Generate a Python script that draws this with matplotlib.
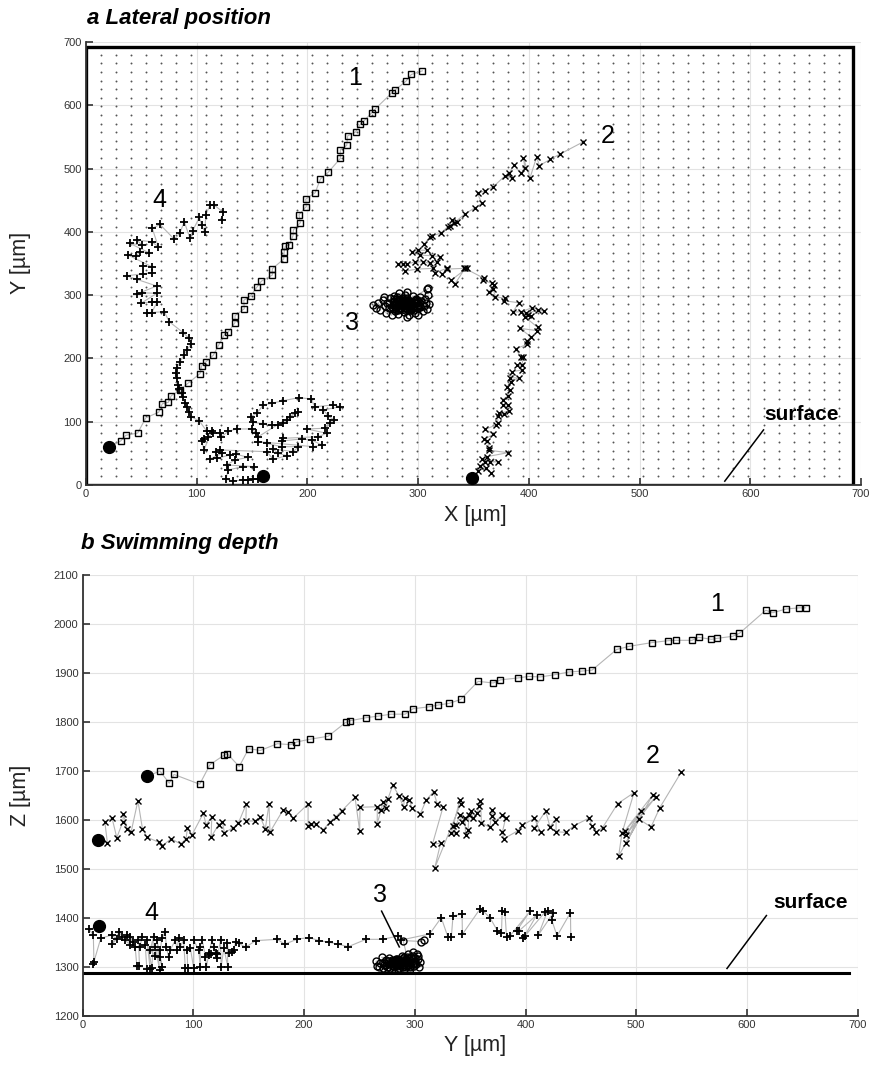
import matplotlib
matplotlib.use("Agg")
import matplotlib.pyplot as plt
from matplotlib.patches import Rectangle
import numpy as np

plt.rcParams["font.family"] = ["Liberation Sans", "DejaVu Sans"]

# ---------------- panel a: lateral position (X, Y), first point = start ----------------
a1_x = [20.4, 31.3, 36, 46.7, 54, 65.7, 69, 74.4, 77, 85, 92, 103, 104.5, 108, 115, 120, 125, 128.6,
        134.6, 134.6, 143, 142.5, 148.8, 154.5, 158.4, 168.3, 168.3, 178.6, 179, 180, 183.6, 187, 187.3,
        193.6, 192.4, 199, 198.5, 207, 211.7, 219, 229.7, 229.7, 235.5, 236.4, 243.6, 247.8, 250.9, 258,
        261.4, 276.4, 279.4, 288.8, 293.9, 303.8]
a1_y = [59.5, 69.5, 78.5, 82, 106, 115, 128.5, 130.6, 141, 150, 160.6, 176, 188.5, 194, 205, 221.6, 237.5,
        242, 256.5, 267.5, 278.6, 291.8, 299, 313, 322, 331.7, 341.7, 357, 368.6, 377.6, 379, 394, 403,
        414.4, 427, 440, 451.8, 461.8, 483.4, 494.5, 516, 530, 536.6, 551.8, 558, 570, 575, 588, 594.5,
        620, 624.5, 637.7, 648.8, 654.5]

a2_x = [349, 354.4, 361.3, 365.9, 355.9, 360.4, 372.5, 365.2, 358, 362, 381.2, 364.3, 364.3, 362.5, 359.8,
        368, 360.7, 370.4, 371.9, 371.9, 378, 373.4, 382.4, 377, 381, 376.4, 381, 383, 380.3, 384, 390.9,
        383.3, 384.8, 393.6, 389.6, 393.9, 394.8, 392.7, 388, 398.6, 398.4, 402, 392, 407, 408, 396.3, 399,
        401.7, 397.2, 408.6, 413.4, 402.9, 393, 385.7, 390.9, 378, 378.5, 369.7, 368, 364.3, 368.6, 366.8,
        358.9, 359.5, 342.4, 333, 329.7, 343.9, 341.2, 326.4, 322, 325.8, 315.3, 313.7, 299.3, 288.4, 282.1,
        286, 290, 297.2, 304.7, 310.7, 317.4, 319.8, 312.3, 301.7, 294.2, 300, 307.8, 305.6, 310.7, 312.3,
        320.4, 326.7, 330.9, 334.9, 328.8, 332.7, 342.4, 351.4, 357.4, 353.8, 360.4, 368, 378.5, 384.6,
        382.1, 386.6, 392.7, 396.6, 395, 401.1, 407.1, 409.5, 419.1, 428.2, 449.2]
a2_y = [10.5, 22.6, 26.3, 19.5, 30, 36.8, 36.8, 36.8, 40.5, 44.7, 51, 54.8, 59, 69.5, 72.2, 80, 88, 94.8,
        98.4, 109, 112, 113.3, 117, 126, 127, 134.8, 140.6, 150, 155.3, 163, 169, 169.5, 179, 181.7, 189,
        189.6, 202, 202.7, 215.4, 222, 228, 234, 247.5, 244, 249, 265.9, 268.6, 267, 271, 276, 275, 280,
        273.8, 273.3, 288, 291, 295, 297.5, 309, 305.4, 316, 318.6, 323.4, 326.5, 342.3, 317, 323.4, 342.3,
        342.3, 341.2, 333.3, 342.3, 335.4, 342.3, 341.2, 338, 348.7, 348.7, 348.7, 352.8, 352.8, 350.2,
        352.8, 360.7, 362.3, 363.3, 368.6, 371, 371, 380.7, 392.3, 393.4, 398, 408, 418.6, 415, 409, 414.4,
        428.6, 438, 445, 460.8, 465, 471.4, 488.6, 484.5, 492.4, 505.5, 492.4, 500.3, 517, 485.5, 518.6,
        504.4, 514.5, 522.9, 542.3]

a3_x = [288, 259, 262, 264, 266, 268, 270, 271, 272, 274, 275, 276, 277, 278, 279, 280, 281, 282, 283,
        284, 285, 286, 287, 288, 288, 289, 290, 291, 292, 293, 294, 295, 296, 297, 298, 299, 300, 301, 302,
        303, 304, 305, 306, 307, 308, 309, 310, 283, 278, 269, 292, 300, 290, 285, 282, 287, 291, 280, 294,
        276, 278, 280, 282, 284, 286, 288, 290, 292, 294, 296, 298, 300, 278, 282, 286, 290, 294, 298, 302,
        274, 280, 284, 288, 292, 296, 300, 285, 289, 293, 287, 291, 283, 279, 297, 295, 281, 289, 299, 277,
        307.8, 309.2]
a3_y = [287, 284, 280, 288, 276, 292, 283, 272, 287, 279, 295, 268, 285, 290, 275, 281, 297, 270, 286,
        278, 292, 283, 274, 300, 288, 280, 266, 293, 284, 276, 289, 298, 281, 271, 287, 293, 279, 285, 297,
        290, 275, 283, 294, 288, 278, 300, 286, 303, 299, 297, 268, 269, 305, 296, 292, 280, 288, 284, 278,
        282, 286, 278, 290, 284, 288, 282, 278, 290, 284, 288, 282, 290, 294, 276, 294, 296, 276, 294, 282,
        288, 288, 292, 276, 280, 276, 284, 286, 286, 286, 290, 284, 280, 282, 292, 280, 294, 292, 288, 278,
        309, 310.7]

a4_x = [160.2, 155.7, 151, 146.6, 142, 133, 126.2, 128.5, 142, 151.8, 127, 134.6, 146.6, 135.5, 130, 118,
        112, 122.9, 117.4, 121, 163.2, 169.2, 181.3, 173.2, 169.2, 187.3, 191.8, 176.7, 163.2, 155.7, 205.4,
        213, 203.8, 194.8, 176.7, 178.2, 209.9, 217.4, 199.4, 215.9, 220.4, 224, 218.9, 214.4, 229.4, 223.4,
        206.9, 203, 192.4, 178.2, 167.7, 160.2, 154.2, 148.8, 151, 160.2, 167.7, 173.7, 178.2, 181.3, 184.3,
        188.8, 191.8, 155.7, 153.6, 149.7, 136, 128.5, 121.7, 121, 114.4, 110.5, 106.6, 104.5, 106.6, 113.5,
        109, 102.4, 94.9, 93, 91, 89.4, 87.3, 86.4, 84.2, 83.4, 81.9, 81.3, 81.9, 85, 88.5, 91, 94.9, 93,
        87.9, 75.2, 70.7, 54.7, 59.3, 64.4, 59.3, 49.7, 63.9, 50.3, 45.8, 63.9, 45.8, 36.8, 59.3, 51.8, 51.8,
        59.3, 38.2, 45.2, 48.8, 56.9, 39.7, 50.3, 46.3, 59.3, 65.3, 59.9, 66.8, 79.8, 84.9, 88.8, 93.9, 96.4,
        102.4, 104.5, 107.5, 108.1, 112, 115.9, 124, 122.6]
a4_y = [14.2, 9, 9, 8, 8, 6.3, 9, 23.7, 29, 29, 31.6, 39.5, 43.7, 48.5, 47.4, 42, 41, 50, 52.6, 55.3,
        52.6, 40.5, 46.3, 50, 56.9, 52.6, 60.5, 60.5, 65.8, 68.4, 60.5, 63.2, 71, 72.7, 69.5, 73.7, 76.3,
        81.7, 88.5, 89.6, 97.5, 102.7, 109, 118.5, 123.7, 126.4, 123.7, 135.9, 138, 133.2, 129, 126.4,
        113.2, 108, 99, 96.4, 94.8, 94.8, 97.5, 102.7, 108, 114.2, 115.8, 76.3, 82.6, 88.5, 88.5, 84.8,
        75.4, 82.6, 82.6, 76.3, 72.7, 69.5, 55.3, 85.3, 85.3, 101, 108, 115.8, 123.7, 130, 139.5, 144.8,
        151, 158, 168.5, 176.4, 184.3, 194.8, 205.4, 213.3, 222.3, 231.7, 240.6, 258, 273.8, 272.2, 272.2,
        289.6, 289.6, 287, 302.8, 303.8, 301.7, 314.4, 325, 330.6, 335.4, 333.3, 346, 344.9, 363.3, 361.8,
        368.6, 367, 381.8, 379, 387, 384.4, 376.5, 405.5, 411.8, 388.2, 398.6, 416, 389.7, 401.7, 422.9,
        410.7, 399.2, 426.5, 442.3, 442.3, 430.8, 418.6]

# ---------------- panel b: swimming depth (Y, Z), first point = start ----------------
b1_y = [58.3, 69.8, 78.2, 82.5, 105.7, 115, 127.5, 130.8, 141.4, 149.9, 160.5, 175.9, 188.2, 193, 205,
        221.8, 237.5, 241.7, 256, 266.8, 278.6, 291.3, 298.3, 312.8, 321.2, 331, 341.4, 357.2, 370.8,
        377.4, 392.8, 402.8, 413.4, 426.4, 439, 451.1, 460.2, 482.3, 493.8, 514, 529, 535.8, 550.3, 556.3,
        568, 573.2, 587, 593.2, 617, 623.4, 635.2, 647, 653]
b1_z = [1689, 1700, 1675, 1693, 1673, 1713, 1732, 1735, 1709, 1745.5, 1742, 1755.7, 1753.7, 1759, 1764.7,
        1771, 1799, 1802.6, 1808.8, 1812, 1816, 1816, 1827, 1831, 1834.7, 1838, 1846, 1883, 1879.6, 1886,
        1889.8, 1893, 1892, 1896.5, 1902, 1904, 1906, 1948, 1954.5, 1962, 1966, 1966.7, 1966.7, 1972.8,
        1968.7, 1970.8, 1974.8, 1981, 2028, 2023, 2030.6, 2033, 2033]

b2_y = [14.1, 22.3, 20, 26.6, 30.8, 36.3, 36.8, 40.2, 43.8, 49.9, 54, 58.3, 68.9, 71.9, 79.8, 88.5, 93.4,
        94.6, 98.8, 109, 111.5, 116.6, 116, 122.7, 126.3, 128, 136, 140.5, 147.8, 147.4, 155.3, 160.5, 165,
        168.3, 169.2, 181, 185.5, 190, 203.6, 203.6, 206.3, 210.6, 217.2, 223.6, 228.7, 233.9, 246, 250.2,
        250.5, 266.2, 266, 269.5, 271.6, 274, 275.6, 280.1, 285.8, 289.8, 290.7, 295.2, 297.4, 304.9, 310.3,
        317, 320.3, 325.5, 316, 323.3, 317.9, 341.4, 340.6, 333, 337.5, 334.5, 337.5, 340.6, 342.7, 345, 346,
        348.1, 349, 350.5, 352.7, 356.3, 358.1, 359.3, 360.2, 367.7, 369.3, 369.9, 372.3, 379, 382, 379.2,
        380.4, 392.8, 397.1, 408, 413.7, 408, 418.2, 422.1, 427.6, 427.6, 436.4, 443.9, 457.5, 459.9, 463.8,
        469.6, 483.2, 498, 487.1, 484.1, 514.9, 489.6, 517.9, 490.8, 504.3, 491, 502.8, 513.4, 521.3, 540.9]
b2_z = [1558.6, 1553.7, 1596.5, 1603.4, 1564, 1596.5, 1613, 1581.6, 1576, 1639.4, 1582, 1564.7, 1554.5,
        1547, 1561.8, 1551, 1561.8, 1583, 1570, 1613.7, 1590.4, 1606.7, 1565, 1590.4, 1596, 1574, 1584.3,
        1593.3, 1632.6, 1598, 1598, 1605.5, 1582, 1632.6, 1575.5, 1620.4, 1616.3, 1603.4, 1632.6, 1587.8,
        1592.5, 1591.2, 1580.2, 1596.5, 1606.7, 1618.4, 1646.3, 1577.6, 1626, 1627.1, 1591.8, 1620.4,
        1637.3, 1623.8, 1642.2, 1671.4, 1649, 1626, 1645.5, 1640.8, 1623.8, 1612.2, 1640.8, 1657.8, 1632.6,
        1626.5, 1551, 1552.4, 1501.4, 1633.3, 1640.8, 1572.9, 1572.9, 1587.8, 1590, 1610, 1596.5, 1603.4,
        1569.4, 1579.6, 1610, 1618.4, 1603.4, 1613.7, 1628.6, 1639.4, 1594.6, 1585.1, 1608.8, 1620.4,
        1596.5, 1610, 1603.4, 1576, 1561.8, 1577.6, 1589.2, 1603.4, 1574.8, 1583.7, 1618.4, 1586.4, 1602.7,
        1576, 1574.8, 1588.4, 1604, 1587.8, 1576, 1584.3, 1633.3, 1655.8, 1572.9, 1526.5, 1651, 1577.6,
        1647.6, 1569.4, 1617.8, 1553.7, 1601.4, 1585.7, 1625.1, 1698.6]

b3_y = [285, 265, 266, 268, 269, 271, 272, 274, 275, 276, 278, 279, 280, 281, 282, 283, 284, 285, 286, 287,
        288, 289, 290, 291, 292, 293, 294, 295, 296, 297, 298, 299, 300, 301, 302, 303, 304, 305, 303, 298,
        294, 288, 277, 270, 285, 296,
        272, 274, 276, 278, 280, 282, 284, 286, 288, 290, 292, 294, 296, 298, 300, 276, 280, 284, 288, 292,
        296, 300, 287, 291, 295, 283, 279, 297, 289, 293,
        289.5, 306, 308]
b3_z = [1310, 1312, 1303, 1300, 1308, 1298, 1305, 1315, 1301, 1309, 1298, 1304, 1312, 1300, 1307, 1317,
        1302, 1310, 1298, 1305, 1314, 1301, 1320, 1308, 1299, 1312, 1304, 1318, 1300, 1309, 1323, 1302,
        1313, 1306, 1326, 1316, 1300, 1310, 1322, 1330, 1326, 1322, 1318, 1320, 1296, 1296,
        1310, 1304, 1312, 1306, 1302, 1314, 1306, 1312, 1304, 1310, 1316, 1308, 1314, 1306, 1318, 1300,
        1308, 1316, 1300, 1304, 1302, 1308, 1309, 1313, 1311, 1311, 1315, 1320, 1318, 1321,
        1354, 1352, 1356]

b4_y = [15.1, 6, 9.6, 10.2, 9.6, 16.3, 26.3, 30.8, 26.3, 33.2, 35.3, 38.3, 42.9, 39.9, 45.9, 42.9, 47.4,
        48.9, 51.3, 50.4, 53.5, 51.9, 56.5, 58, 61, 58, 62.5, 64, 61, 65.5, 65.5, 69.5, 67.1, 71.6, 70.1,
        70.1, 71.6, 74.6, 75.5, 77.6, 79.1, 83.7, 85.2, 86.7, 88.2, 91.2, 92.7, 94.9, 94.3, 97.3, 100.3,
        100.3, 104.8, 106.3, 106.3, 107.9, 110.9, 111.8, 113.9, 116.3, 113.9, 116.9, 118.4, 120, 121.5,
        121.5, 124.5, 125.1, 127.5, 131.1, 130.5, 132, 135.1, 136.6, 138.1, 141.1, 147.2, 156.2, 175.9,
        182.5, 194, 204.6, 213.6, 222.7, 230.9, 239.9, 256, 271.1, 284.6, 287.7, 313.4, 323.9, 330, 333,
        334.5, 342.7, 343, 358.7, 361.7, 368.1, 374.7, 378.3, 378.9, 381.4, 382.9, 385.9, 404, 391.9, 394,
        410.1, 398, 399.5, 417.6, 420, 411.6, 425.2, 423.7, 428.5, 440.6, 440.9]
b4_z = [1383.7, 1376.9, 1365.3, 1310.9, 1306.1, 1358.5, 1365.3, 1356.5, 1347, 1372.1, 1360.6, 1355.1,
        1344.9, 1365.3, 1351.7, 1361.9, 1341.5, 1302.7, 1302.7, 1355.1, 1361.9, 1341.5, 1344.9, 1295.2,
        1295.2, 1355.1, 1297.3, 1361.9, 1334.7, 1322.5, 1341.5, 1293.9, 1355.1, 1299.3, 1321.1, 1334.7,
        1358.5, 1372.1, 1341.5, 1321.1, 1334.7, 1355.1, 1334.7, 1358.5, 1341.5, 1355.1, 1297.3, 1297.3,
        1334.7, 1338.1, 1297.3, 1355.1, 1334.7, 1299.3, 1341.5, 1355.1, 1321.1, 1300.7, 1324.5, 1326.5,
        1327.9, 1355.1, 1341.5, 1327.9, 1326.5, 1317.7, 1355.1, 1300.7, 1338.1, 1300.7, 1348.3, 1327.9,
        1331.3, 1334.7, 1351.7, 1348.3, 1340.2, 1353.8, 1356.5, 1346.3, 1357.2, 1359.9, 1353.8, 1350.4,
        1346.3, 1341.5, 1356.5, 1356.5, 1363.3, 1355.1, 1367.4, 1400.7, 1360.6, 1360.6, 1404.1, 1408.2,
        1366.7, 1417.7, 1414.3, 1400, 1373.5, 1368.7, 1415, 1412.3, 1360.6, 1363.3, 1413.6, 1373.5, 1373.5,
        1406.1, 1358.5, 1363.3, 1412.3, 1415, 1365.3, 1410.9, 1396, 1363.3, 1410.9, 1360.6]

track_labels = ["1", "2", "3", "4"]
label_pos_a = [(243, 643), (471, 551), (240, 256), (66, 450)]
label_pos_b = [(573, 2040), (515, 1730), (269, 1447), (62, 1411)]

LINE_GRAY = "#b5b5b5"
AX_GRAY = "#333333"


def draw_track(ax, xs, ys, marker, ms, mew):
    ax.plot(xs, ys, color=LINE_GRAY, lw=0.8, zorder=3)
    ax.plot(xs[1:], ys[1:], ls="none", marker=marker, ms=ms, mfc="none",
            mec="black", mew=mew, zorder=4)
    ax.plot(xs[0], ys[0], "o", color="black", ms=8.5, zorder=5)


def style_axes(ax):
    for side in ("top", "right"):
        ax.spines[side].set_visible(False)
    for side in ("left", "bottom"):
        ax.spines[side].set_color(AX_GRAY)
        ax.spines[side].set_linewidth(1.3)
    ax.tick_params(direction="in", length=5, width=1.2, colors=AX_GRAY,
                   labelsize=8, pad=3)
    ax.grid(True, color="#e3e3e3", lw=0.8)
    ax.set_axisbelow(True)


fig = plt.figure(figsize=(8.73, 10.67), dpi=100)

# ---------- panel a ----------
ax0 = fig.add_axes([0.0985, 0.5455, 0.8877, 0.4151])
ax0.set_xlim(0, 700)
ax0.set_ylim(0, 700)
ax0.set_xticks(range(0, 701, 100))
ax0.set_yticks(range(0, 701, 100))
style_axes(ax0)

# dotted background pattern of the image field
dot_step = 13.6
dots = np.arange(1, 51) * dot_step
dx, dy = np.meshgrid(dots, dots)
ax0.plot(dx.ravel(), dy.ravel(), ls="none", marker="o", ms=1.4, color="#555555",
         mew=0, zorder=1)
ax0.add_patch(Rectangle((0, 0), 693, 692, fill=False, lw=2.4, ec="black", zorder=2))

draw_track(ax0, a1_x, a1_y, "s", 4.2, 1.0)
draw_track(ax0, a2_x, a2_y, "x", 3.8, 1.0)
draw_track(ax0, a3_x, a3_y, "o", 5.0, 1.0)
draw_track(ax0, a4_x, a4_y, "+", 6.0, 1.3)

for lab, (px, py) in zip(track_labels, label_pos_a):
    ax0.text(px, py, lab, fontsize=18, ha="center", va="center", zorder=6)

ax0.plot([577, 612], [6, 87], color="black", lw=1.1, zorder=6)
ax0.text(612.5, 112, "surface", fontsize=15, fontweight="bold", ha="left",
         va="center", zorder=6)

# ---------- panel b ----------
ax1 = fig.add_axes([0.0947, 0.0478, 0.8877, 0.4133])
ax1.set_xlim(0, 700)
ax1.set_ylim(1200, 2100)
ax1.set_xticks(range(0, 701, 100))
ax1.set_yticks(range(1200, 2101, 100))
style_axes(ax1)

ax1.plot([0, 692], [1287, 1287], color="black", lw=2.2, zorder=2)

draw_track(ax1, b1_y, b1_z, "s", 4.2, 1.0)
draw_track(ax1, b2_y, b2_z, "x", 3.8, 1.0)
draw_track(ax1, b3_y, b3_z, "o", 5.0, 1.0)
draw_track(ax1, b4_y, b4_z, "+", 6.0, 1.3)

for lab, (px, py) in zip(track_labels, label_pos_b):
    ax1.text(px, py, lab, fontsize=18, ha="center", va="center", zorder=6)

ax1.plot([270, 286], [1414, 1341], color="black", lw=1.1, zorder=6)
ax1.plot([582, 617.6], [1297, 1405], color="black", lw=1.1, zorder=6)
ax1.text(624, 1432, "surface", fontsize=15, fontweight="bold", ha="left",
         va="center", zorder=6)

# ---------- titles and axis labels ----------
fig.text(0.0997, 0.983, "a Lateral position", fontsize=16, fontweight="bold",
         fontstyle="italic", ha="left", va="center")
fig.text(0.093, 0.491, "b Swimming depth", fontsize=16, fontweight="bold",
         fontstyle="italic", ha="left", va="center")
fig.text(0.544, 0.517, "X [µm]", fontsize=15.5, ha="center", va="center", color="#222222")
fig.text(0.023, 0.754, "Y [µm]", fontsize=15.5, ha="center", va="center",
         rotation=90, color="#222222")
fig.text(0.023, 0.255, "Z [µm]", fontsize=15.5, ha="center", va="center",
         rotation=90, color="#222222")
fig.text(0.544, 0.0206, "Y [µm]", fontsize=15.5, ha="center", va="center", color="#222222")

fig.savefig("out.png", dpi=100)
